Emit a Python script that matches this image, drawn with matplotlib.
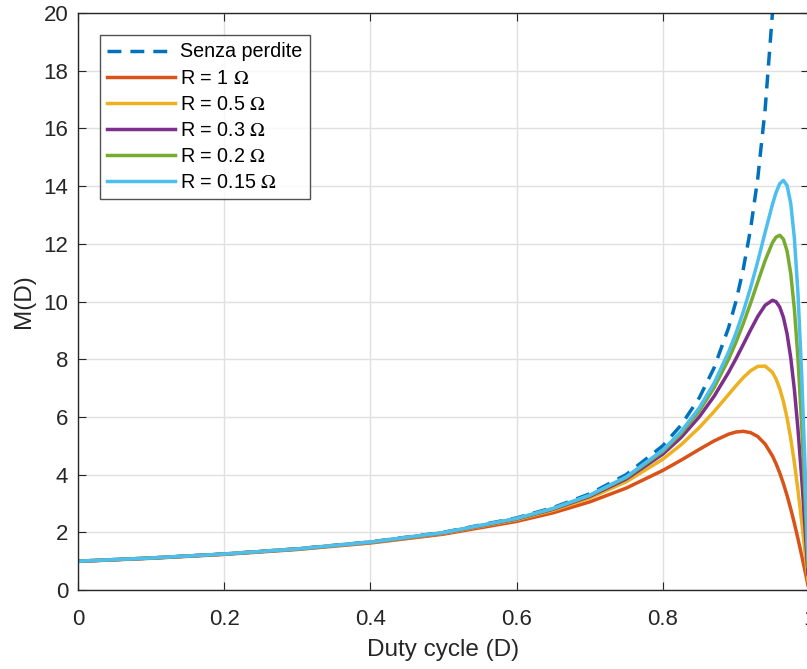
import matplotlib
matplotlib.use("Agg")
import matplotlib.pyplot as plt

plt.rcParams['font.family'] = ['Liberation Sans', 'DejaVu Sans']
plt.rcParams['mathtext.fontset'] = 'stix'

D = [0, 0.1, 0.2, 0.3, 0.4, 0.5, 0.6, 0.65, 0.7, 0.75, 0.8, 0.825, 0.85, 0.87, 0.89,
     0.9, 0.91, 0.92, 0.93, 0.94, 0.95, 0.955, 0.96, 0.965, 0.97, 0.975, 0.98, 0.985,
     0.99, 0.995, 1.0]

D_ideal = [0, 0.1, 0.2, 0.3, 0.4, 0.5, 0.6, 0.65, 0.7, 0.75, 0.8, 0.825, 0.85, 0.87, 0.89,
           0.9, 0.91, 0.92, 0.93, 0.94, 0.95, 0.955, 0.96]
M_ideal = [1.0, 1.111, 1.25, 1.429, 1.667, 2.0, 2.5, 2.857, 3.333, 4.0, 5.0, 5.714, 6.667,
           7.692, 9.091, 10.0, 11.11, 12.5, 14.29, 16.67, 20.0, 22.2, 25.0]

M_R1 = [0.9918, 1.0999, 1.2341, 1.4049, 1.6293, 1.9360, 2.3772, 2.6766, 3.0531, 3.5329,
        4.1441, 4.4998, 4.8760, 5.1663, 5.4018, 5.4755, 5.5004, 5.4560, 5.3180, 5.0582,
        4.6462, 4.3733, 4.0558, 3.6880, 3.2740, 2.8120, 2.3090, 1.7669, 1.1956, 0.6030, 0.0]
M_R05 = [0.9959, 1.1055, 1.2420, 1.4166, 1.6478, 1.9675, 2.4371, 2.7639, 3.1871, 3.7520,
         4.5320, 5.0345, 5.6326, 6.1816, 6.7775, 7.0771, 7.3590, 7.5973, 7.7519, 7.7619,
         7.5415, 7.3087, 6.9783, 6.5334, 5.9618, 5.2554, 4.4131, 3.4427, 2.3629, 1.2028, 0.0]
M_R03 = [0.9975, 1.1077, 1.2452, 1.4214, 1.6553, 1.9804, 2.4619, 2.8005, 3.2440, 3.8474,
         4.7082, 5.2864, 6.0050, 6.7083, 7.5450, 8.0133, 8.5074, 9.0100, 9.4863, 9.8700,
         10.042, 9.9911, 9.8063, 9.4493, 8.8783, 8.0541, 6.9468, 5.5473, 3.8774, 1.9968, 0.0]
M_R02 = [0.9983, 1.1088, 1.2468, 1.4238, 1.6590, 1.9869, 2.4744, 2.8191, 3.2732, 3.8969,
         4.8016, 5.4217, 6.2104, 7.0070, 7.9982, 8.5815, 9.2280, 9.9342, 10.682, 11.422,
         12.040, 12.235, 12.296, 12.161, 11.751, 10.974, 9.742, 7.987, 5.704, 2.980, 0.0]
M_R015 = [0.9988, 1.1094, 1.2476, 1.4250, 1.6610, 1.9901, 2.4808, 2.8285, 3.2880, 3.9222,
          4.8497, 5.4919, 6.3184, 7.1665, 8.2459, 8.8968, 9.6360, 10.471, 11.401, 12.397,
          13.369, 13.783, 14.085, 14.199, 14.019, 13.405, 12.195, 10.239, 7.463, 3.953, 0.0]

labels = ['Senza perdite', r'R = 1 $\mathrm{\Omega}$', r'R = 0.5 $\mathrm{\Omega}$',
          r'R = 0.3 $\mathrm{\Omega}$', r'R = 0.2 $\mathrm{\Omega}$', r'R = 0.15 $\mathrm{\Omega}$']
colors = ['#0072BD', '#D95319', '#EDB120', '#7E2F8E', '#77AC30', '#4DBEEE']

W, H = 807, 669
fig = plt.figure(figsize=(W / 100, H / 100), dpi=100)
ax = fig.add_axes([78 / W, (H - 590) / H, 731 / W, 577 / H])

ax.plot(D_ideal, M_ideal, '--', color=colors[0], lw=2.5, dashes=(4, 2.6), label=labels[0])
for M, c, lab in zip([M_R1, M_R05, M_R03, M_R02, M_R015], colors[1:], labels[1:]):
    ax.plot(D, M, '-', color=c, lw=2.5, label=lab)

ax.set_xlim(0, 1)
ax.set_ylim(0, 20)
ax.set_xticks([0, 0.2, 0.4, 0.6, 0.8, 1.0])
ax.set_xticklabels(['0', '0.2', '0.4', '0.6', '0.8', '1'])
ax.set_yticks(range(0, 21, 2))
ax.grid(True, color='#e0e0e0', lw=1)
ax.set_axisbelow(True)
ax.tick_params(direction='in', top=True, right=True, labelsize=16, length=6,
               colors='#262626')
ax.tick_params(axis='x', pad=14)
ax.tick_params(axis='y', pad=7)
for s in ax.spines.values():
    s.set_color('#262626')
    s.set_linewidth(1)
ax.set_xlabel('Duty cycle (D)', fontsize=17.5, color='#262626', labelpad=6)
ax.set_ylabel('M(D)', fontsize=17.5, color='#262626', labelpad=6)

leg = ax.legend(loc='upper left', bbox_to_anchor=(22 / 731, 1 - 22 / 577), fontsize=14.2,
                frameon=True, fancybox=False, edgecolor='#262626', handlelength=3.4,
                handletextpad=0.3, borderpad=0.38, labelspacing=0.36, borderaxespad=0)
leg.get_frame().set_linewidth(1)

fig.savefig('out.png', dpi=100)
